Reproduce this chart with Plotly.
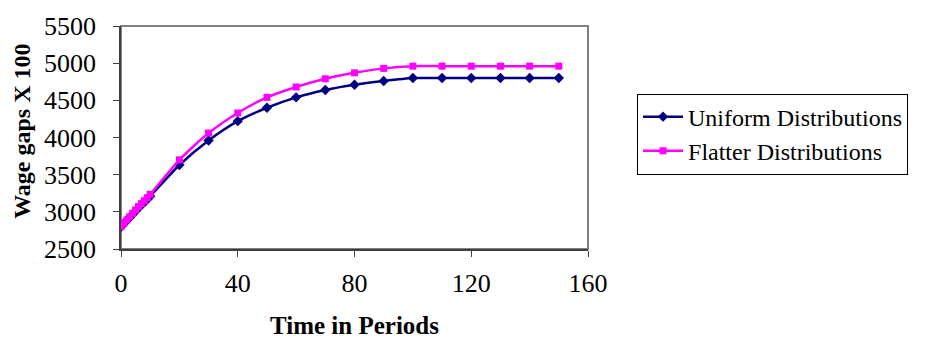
import plotly.graph_objects as go

# Time periods sampled by the simulation
periods = [0, 1, 2, 3, 4, 5, 6, 7, 8, 9, 10,
           20, 30, 40, 50, 60, 70, 80, 90, 100,
           110, 120, 130, 140, 150]

# Wage gaps (x 100) for the two distribution scenarios
uniform_gap = [2800, 2842, 2884, 2926, 2968, 3010, 3050, 3090, 3130, 3170, 3210,
               3630, 3960, 4220, 4400, 4540, 4640, 4710, 4760, 4800,
               4800, 4800, 4800, 4800, 4800]
flatter_gap = [2800, 2845, 2890, 2935, 2980, 3025, 3070, 3110, 3150, 3190, 3235,
               3700, 4060, 4330, 4540, 4680, 4790, 4870, 4930, 4960,
               4960, 4960, 4960, 4960, 4960]

x_ticks = [0, 40, 80, 120, 160]
y_ticks = [2500, 3000, 3500, 4000, 4500, 5000, 5500]

serif = "Liberation Serif, Times New Roman, serif"

fig = go.Figure()
fig.add_trace(go.Scatter(
    x=periods, y=uniform_gap, name="Uniform Distributions",
    mode="lines+markers", line=dict(color="#000080", width=2.5, shape="spline", smoothing=0.6),
    marker=dict(symbol="diamond", size=8, color="#000080"),
))
fig.add_trace(go.Scatter(
    x=periods, y=flatter_gap, name="Flatter Distributions",
    mode="lines+markers", line=dict(color="#FF00FF", width=2.5, shape="spline", smoothing=0.6),
    marker=dict(symbol="square", size=7, color="#FF00FF"),
))

# Grey plot-area frame (top and right edges)
fig.add_shape(type="rect", xref="paper", yref="paper", x0=0, y0=0, x1=1, y1=1,
              line=dict(color="#808080", width=2), layer="below")

fig.update_layout(
    width=936, height=345,
    margin=dict(l=121, r=348, t=18, b=96),
    paper_bgcolor="white", plot_bgcolor="white",
    font=dict(family=serif, color="black", size=26),
    showlegend=True,
    legend=dict(x=1.105, y=0.697, xanchor="left", yanchor="top",
                bordercolor="black", borderwidth=1, bgcolor="white",
                font=dict(family=serif, size=24, color="black"),
                tracegroupgap=0, itemwidth=40),
    xaxis=dict(range=[0, 160], tickvals=x_ticks, ticks="outside", ticklen=6,
               tickcolor="#404040", showline=True, linecolor="#404040", linewidth=1.5,
               showgrid=False, zeroline=False, ticklabelstandoff=4,
               tickfont=dict(family=serif, size=26)),
    yaxis=dict(range=[2500, 5500], tickvals=y_ticks, ticks="outside", ticklen=6,
               tickcolor="#404040", showline=True, linecolor="#404040", linewidth=1.5,
               showgrid=False, zeroline=False, ticklabelstandoff=12,
               tickfont=dict(family=serif, size=26)),
    annotations=[
        dict(text="<b>Time in Periods</b>", xref="paper", yref="paper",
             x=0.5, y=-0.345, xanchor="center", yanchor="middle", showarrow=False,
             font=dict(family=serif, size=25)),
        dict(text="<b>Wage gaps X 100</b>", xref="paper", yref="paper",
             x=-0.212, y=0.53, xanchor="center", yanchor="middle", showarrow=False,
             textangle=-90, font=dict(family=serif, size=24)),
    ],
)

fig.write_html("out.html")
